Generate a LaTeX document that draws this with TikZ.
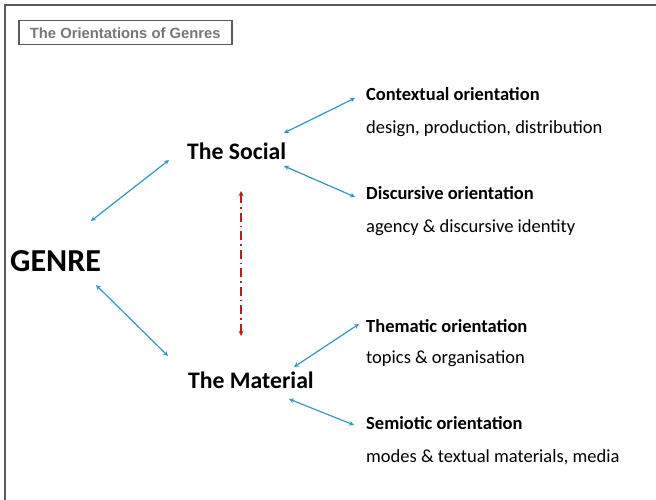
\documentclass[tikz,border=0pt]{standalone}
\usepackage{fontspec}
\setmainfont{Carlito}
\newfontfamily\titlefont{Liberation Sans}
\usepackage{tikz}

\definecolor{linkblue}{RGB}{52,150,190}
\definecolor{linkred}{RGB}{178,34,34}
\definecolor{framegray}{RGB}{90,90,90}
\definecolor{titlegray}{RGB}{118,118,118}

\begin{document}
\begin{tikzpicture}[x=1pt,y=-1pt,
  lbl/.style={inner sep=0,anchor=base west},
  head/.style={lbl,font=\fontsize{18.5}{22}\selectfont\bfseries},
  sub/.style={lbl,font=\fontsize{18.5}{22}\selectfont},
  pole/.style={lbl,font=\fontsize{23.7}{28}\selectfont\bfseries},
  link/.style={linkblue,line width=1.2pt,<->,>=stealth},
  tie/.style={linkred,line width=1.3pt,<->,>=stealth,dash pattern=on 9pt off 4pt on 1.5pt off 4pt}]
\useasboundingbox (0,0) rectangle (656,500);
\fill[white] (0,0) rectangle (656,500);

% frame and title
\draw[framegray,line width=2pt] (4.5,500) -- (4.5,5.5) -- (656,5.5);
\node[draw=framegray,line width=1.5pt,minimum width=213pt,minimum height=24pt,inner sep=0,
  anchor=north west,font=\titlefont\fontsize{14.8}{17}\selectfont\bfseries,text=titlegray]
  (title) at (18,20) {The Orientations of Genres};

% the three poles
\node[lbl,font=\fontsize{32}{37}\selectfont\bfseries] (genre) at (10,271) {GENRE};
\node[pole] (social) at (187,160) {The Social};
\node[pole] (material) at (188,388) {The Material};

% orientations
\node[head] (context) at (366,101) {Contextual orientation};
\node[sub] (contextsub) at (366,133.5) {design, production, distribution};
\node[head] (discourse) at (366,199.5) {Discursive orientation};
\node[sub] (discoursesub) at (366,232) {agency \& discursive identity};
\node[head] (theme) at (366,332) {Thematic orientation};
\node[sub] (themesub) at (366,363) {topics \& organisation};
\node[head] (semio) at (366,429.5) {Semiotic orientation};
\node[sub] (semiosub) at (366,462) {modes \& textual materials, media};

% arrow ends
\coordinate (genre-up) at (91,221);
\coordinate (genre-dn) at (96,285);
\coordinate (social-in) at (169,160);
\coordinate (social-a) at (284,133);
\coordinate (social-b) at (284,166);
\coordinate (material-in) at (168,356);
\coordinate (material-a) at (294,367);
\coordinate (material-b) at (289,399);
\coordinate (context-in) at (355,98);
\coordinate (discourse-in) at (355,197);
\coordinate (theme-in) at (359,324);
\coordinate (semio-in) at (354,425);
\coordinate (social-dn) at (241,191);
\coordinate (material-up) at (241,336);

\draw[link] (genre-up) -- (social-in);
\draw[link] (genre-dn) -- (material-in);
\draw[link] (social-a) -- (context-in);
\draw[link] (social-b) -- (discourse-in);
\draw[link] (material-a) -- (theme-in);
\draw[link] (material-b) -- (semio-in);
\draw[tie] (social-dn) -- (material-up);
\end{tikzpicture}
\end{document}
